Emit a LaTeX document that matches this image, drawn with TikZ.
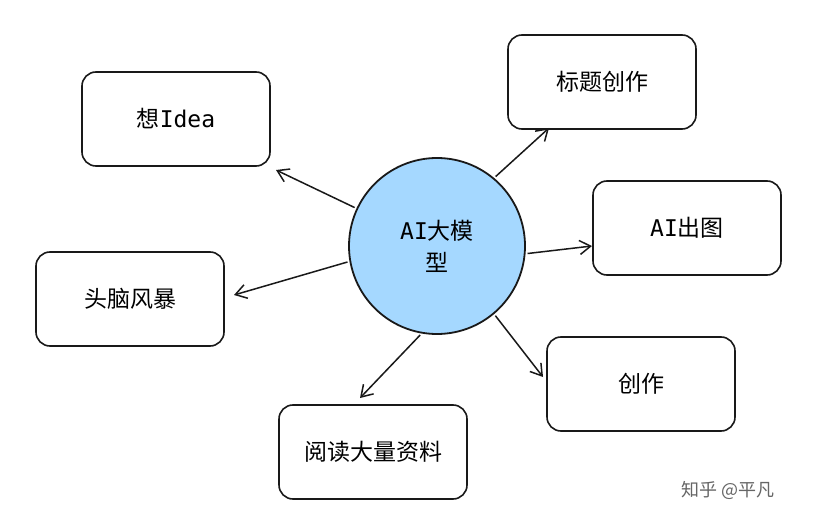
\documentclass[tikz,border=0pt]{standalone}
\usepackage{fontspec}
\setmainfont{Noto Sans CJK SC}
\newfontfamily\monof{DejaVu Sans Mono}
\usetikzlibrary{arrows.meta}
\definecolor{circfill}{HTML}{A5D8FF}
\tikzset{
  box/.style={draw=black!90, line width=1.6pt, rounded corners=14pt, minimum width=188pt, minimum height=94pt, font=\fontsize{23}{27}\selectfont},
  conn/.style={draw=black!90, line width=1.5pt, -{Straight Barb[length=11pt,width=14pt]}, shorten <=2pt}
}
\begin{document}
\begin{tikzpicture}[x=1pt,y=-1pt]
\useasboundingbox[fill=white] (0,0) rectangle (813,521);
\node[circle, draw=black!90, fill=circfill, line width=1.8pt, minimum size=176pt, align=center, font=\fontsize{23}{32}\selectfont] (c) at (437,246) {{\monof AI}大模\\型};
\node[box] (idea) at (176,119) {想{\monof Idea}};
\node[box] (title) at (602,82) {标题创作};
\node[box] (pic) at (687,228) {{\monof AI}出图};
\node[box] (brain) at (130,299) {头脑风暴};
\node[box] (create) at (641,384) {创作};
\node[box] (read) at (373,452) {阅读大量资料};
\node[font=\fontsize{18}{20}\selectfont, text=black!60] (wm) at (728,490) {知乎 @平凡};
\coordinate (e1) at (276,170);
\coordinate (e2) at (549,128);
\coordinate (e3) at (592,246);
\coordinate (e4) at (234,295);
\coordinate (e5) at (543,377);
\coordinate (e6) at (360,398);
\draw[conn] (c.155) -- (e1);
\draw[conn] (c.50) -- (e2);
\draw[conn] (c.-5) -- (e3);
\draw[conn] (c.190) -- (e4);
\draw[conn] (c.-50) -- (e5);
\draw[conn] (c.-100) -- (e6);
\end{tikzpicture}
\end{document}
